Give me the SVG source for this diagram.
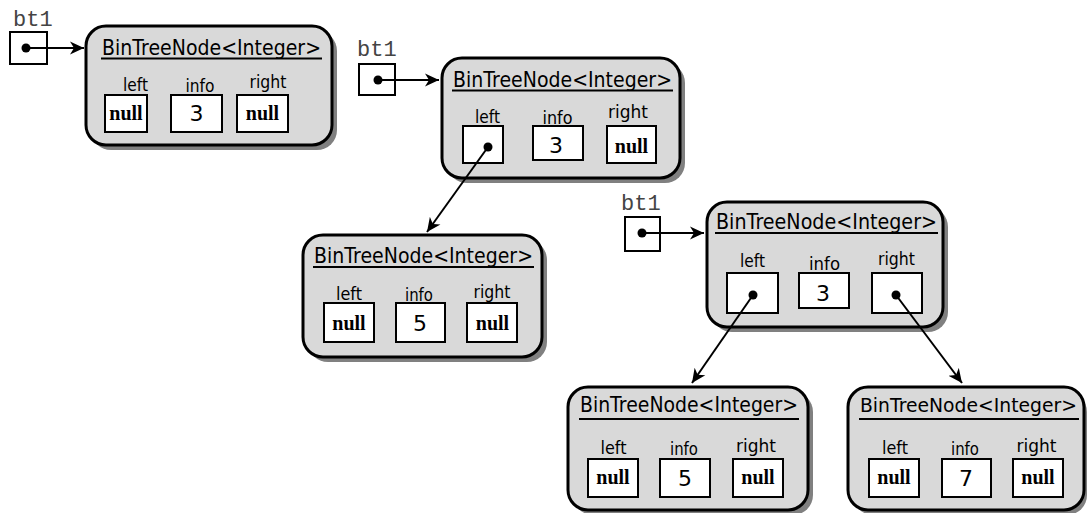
<svg xmlns="http://www.w3.org/2000/svg" width="1087" height="513" viewBox="0 0 1087 513">
<defs>
<marker id="ah" markerUnits="userSpaceOnUse" viewBox="0 0 15 14" markerWidth="15" markerHeight="14" refX="14" refY="7" orient="auto">
<path d="M0,0.5 L14,7 L0,13.5 L4,7 Z" fill="#000"/>
</marker>
<style>
.shadow{fill:#808080;}
.node{fill:#d9d9d9;stroke:#000;stroke-width:3;}
.title{font-family:"DejaVu Sans",Verdana,sans-serif;font-size:21px;fill:#000;}
.ul{stroke:#000;stroke-width:2;}
.lbl{font-family:"DejaVu Sans",Verdana,sans-serif;font-size:17px;fill:#000;text-anchor:middle;}
.box{fill:#fff;stroke:#000;stroke-width:2;}
.null{font-family:"Liberation Serif","Times New Roman",serif;font-weight:bold;font-size:20px;fill:#000;text-anchor:middle;}
.val{font-family:"DejaVu Sans",Verdana,sans-serif;font-size:22px;fill:#000;text-anchor:middle;}
.var{font-family:"Liberation Mono","Courier New",monospace;font-size:22px;fill:#444;}
.vbox{fill:#fff;stroke:#000;stroke-width:2;}
.dot{fill:#000;}
.link{stroke:#000;stroke-width:2;fill:none;marker-end:url(#ah);}
</style>
</defs>

<!-- variable references -->
<g id="bt1-a">
<text class="var" x="13" y="26">bt1</text>
<rect class="vbox" x="10" y="32" width="37" height="32"/>
<circle class="dot" cx="26" cy="48" r="4.5"/>
</g>
<g id="bt1-b">
<text class="var" x="357" y="56">bt1</text>
<rect class="vbox" x="359" y="64" width="36" height="31"/>
<circle class="dot" cx="378" cy="80" r="4.5"/>
</g>
<g id="bt1-c">
<text class="var" x="621" y="210">bt1</text>
<rect class="vbox" x="625" y="217" width="35" height="34"/>
<circle class="dot" cx="642" cy="233" r="4.5"/>
</g>

<!-- Node 1 -->
<g id="node1">
<rect class="shadow" x="91" y="31" width="246" height="119" rx="20"/>
<rect class="node" x="86" y="26" width="246" height="119" rx="20"/>
<text class="title" x="102" y="55" textLength="219" lengthAdjust="spacingAndGlyphs">BinTreeNode&lt;Integer&gt;</text>
<line class="ul" x1="101" y1="58.5" x2="322" y2="58.5"/>
<text class="lbl" x="135.5" y="91" textLength="25" lengthAdjust="spacingAndGlyphs">left</text>
<text class="lbl" x="200" y="92" textLength="29" lengthAdjust="spacingAndGlyphs">info</text>
<text class="lbl" x="268" y="88" textLength="37" lengthAdjust="spacingAndGlyphs">right</text>
<rect class="box" x="105" y="95" width="42" height="37"/>
<rect class="box" x="171" y="95" width="51" height="37"/>
<rect class="box" x="237" y="95" width="51" height="37"/>
<text class="null" x="126" y="120">null</text>
<text class="val" x="196.5" y="121">3</text>
<text class="null" x="262.5" y="120">null</text>
</g>

<!-- Node 2 -->
<g id="node2">
<rect class="shadow" x="447" y="63" width="238" height="120" rx="20"/>
<rect class="node" x="442" y="58" width="238" height="120" rx="20"/>
<text class="title" x="453" y="86.5" textLength="219" lengthAdjust="spacingAndGlyphs">BinTreeNode&lt;Integer&gt;</text>
<line class="ul" x1="452" y1="90.5" x2="673" y2="90.5"/>
<text class="lbl" x="487.5" y="123" textLength="25" lengthAdjust="spacingAndGlyphs">left</text>
<text class="lbl" x="557.5" y="124" textLength="30" lengthAdjust="spacingAndGlyphs">info</text>
<text class="lbl" x="628" y="118" textLength="40" lengthAdjust="spacingAndGlyphs">right</text>
<rect class="box" x="463" y="126" width="40" height="37"/>
<rect class="box" x="533" y="126" width="50" height="34"/>
<rect class="box" x="607" y="126" width="49" height="37"/>
<circle class="dot" cx="488" cy="147" r="4.5"/>
<text class="val" x="556" y="153">3</text>
<text class="null" x="631.5" y="153">null</text>
</g>

<!-- Node 3 -->
<g id="node3">
<rect class="shadow" x="308" y="240" width="239" height="122" rx="20"/>
<rect class="node" x="303" y="235" width="239" height="122" rx="20"/>
<text class="title" x="314" y="263" textLength="219" lengthAdjust="spacingAndGlyphs">BinTreeNode&lt;Integer&gt;</text>
<line class="ul" x1="313" y1="267" x2="534" y2="267"/>
<text class="lbl" x="349" y="300" textLength="26" lengthAdjust="spacingAndGlyphs">left</text>
<text class="lbl" x="419" y="301" textLength="28" lengthAdjust="spacingAndGlyphs">info</text>
<text class="lbl" x="492" y="298" textLength="37" lengthAdjust="spacingAndGlyphs">right</text>
<rect class="box" x="324" y="303" width="50" height="39"/>
<rect class="box" x="396" y="303" width="49" height="39"/>
<rect class="box" x="467" y="303" width="50" height="39"/>
<text class="null" x="349" y="330">null</text>
<text class="val" x="420" y="331">5</text>
<text class="null" x="492.5" y="330">null</text>
</g>

<!-- Node 4 -->
<g id="node4">
<rect class="shadow" x="712" y="207" width="236" height="125" rx="20"/>
<rect class="node" x="707" y="202" width="236" height="125" rx="20"/>
<text class="title" x="716" y="229" textLength="221" lengthAdjust="spacingAndGlyphs">BinTreeNode&lt;Integer&gt;</text>
<line class="ul" x1="715" y1="233" x2="938" y2="233"/>
<text class="lbl" x="752.5" y="267" textLength="25" lengthAdjust="spacingAndGlyphs">left</text>
<text class="lbl" x="824.5" y="270" textLength="31" lengthAdjust="spacingAndGlyphs">info</text>
<text class="lbl" x="896.5" y="265" textLength="37" lengthAdjust="spacingAndGlyphs">right</text>
<rect class="box" x="727" y="273" width="51" height="40"/>
<rect class="box" x="799" y="273" width="50" height="35"/>
<rect class="box" x="872" y="273" width="50" height="40"/>
<circle class="dot" cx="753" cy="295" r="4.5"/>
<circle class="dot" cx="896" cy="295" r="4.5"/>
<text class="val" x="823" y="301">3</text>
</g>

<!-- Node 5 -->
<g id="node5">
<rect class="shadow" x="573" y="392" width="240" height="123" rx="20"/>
<rect class="node" x="568" y="387" width="240" height="123" rx="20"/>
<text class="title" x="580" y="412" textLength="218" lengthAdjust="spacingAndGlyphs">BinTreeNode&lt;Integer&gt;</text>
<line class="ul" x1="579" y1="419" x2="799" y2="419"/>
<text class="lbl" x="613.5" y="454" textLength="26" lengthAdjust="spacingAndGlyphs">left</text>
<text class="lbl" x="684" y="455" textLength="28" lengthAdjust="spacingAndGlyphs">info</text>
<text class="lbl" x="756" y="452" textLength="40" lengthAdjust="spacingAndGlyphs">right</text>
<rect class="box" x="588" y="459" width="50" height="38"/>
<rect class="box" x="660" y="459" width="50" height="38"/>
<rect class="box" x="733" y="459" width="50" height="38"/>
<text class="null" x="613" y="484">null</text>
<text class="val" x="685" y="486">5</text>
<text class="null" x="758" y="484">null</text>
</g>

<!-- Node 6 -->
<g id="node6">
<rect class="shadow" x="853" y="392" width="234" height="123" rx="20"/>
<rect class="node" x="848" y="387" width="236" height="123" rx="20"/>
<text class="title" x="860" y="412" style="font-size:19.5px" textLength="217" lengthAdjust="spacingAndGlyphs">BinTreeNode&lt;Integer&gt;</text>
<line class="ul" x1="859" y1="419" x2="1079" y2="419"/>
<text class="lbl" x="895" y="454" textLength="26" lengthAdjust="spacingAndGlyphs">left</text>
<text class="lbl" x="965" y="455" textLength="28" lengthAdjust="spacingAndGlyphs">info</text>
<text class="lbl" x="1036.5" y="452" textLength="40" lengthAdjust="spacingAndGlyphs">right</text>
<rect class="box" x="869" y="459" width="50" height="38"/>
<rect class="box" x="942" y="459" width="49" height="38"/>
<rect class="box" x="1013" y="459" width="50" height="38"/>
<text class="null" x="894" y="484">null</text>
<text class="val" x="966" y="486">7</text>
<text class="null" x="1038" y="484">null</text>
</g>

<!-- connectors -->
<g id="connectors">
<line class="link" x1="26" y1="48" x2="84" y2="48"/>
<line class="link" x1="378" y1="80" x2="439" y2="80"/>
<line class="link" x1="642" y1="233" x2="704" y2="233"/>
<line class="link" x1="488" y1="147" x2="427" y2="232"/>
<line class="link" x1="753" y1="295" x2="692" y2="383"/>
<line class="link" x1="896" y1="295" x2="962" y2="383"/>
</g>
</svg>
